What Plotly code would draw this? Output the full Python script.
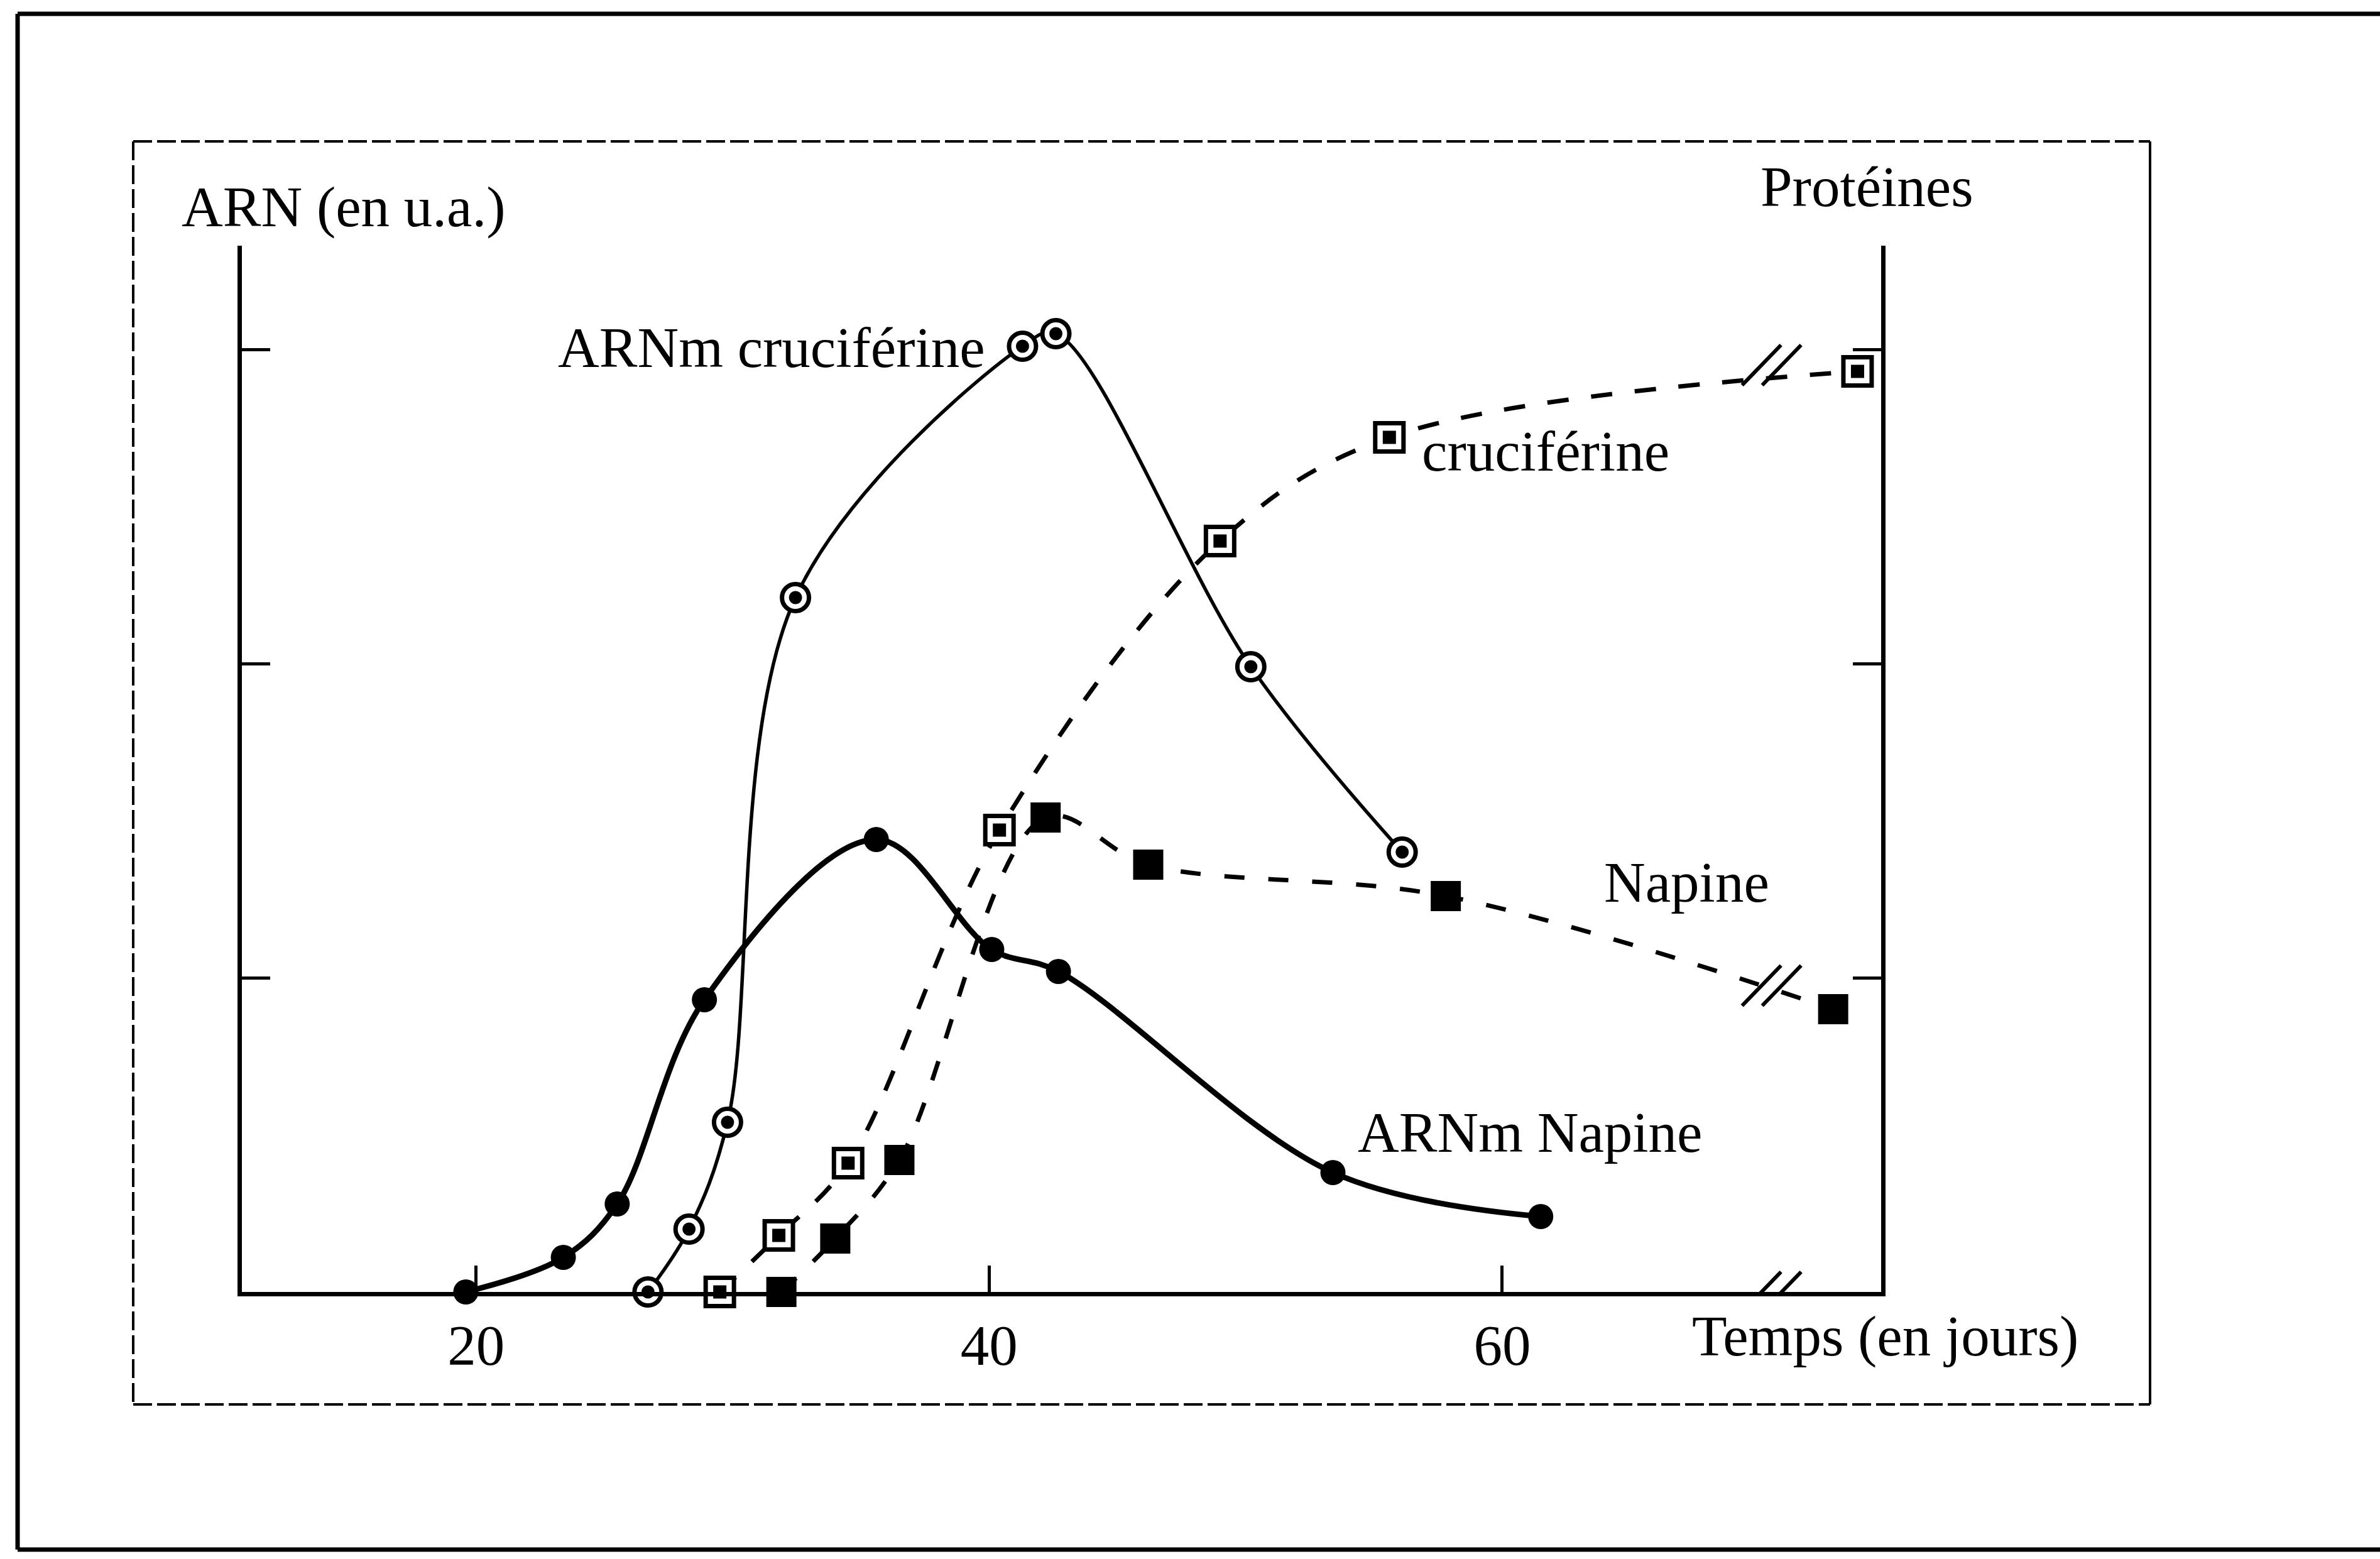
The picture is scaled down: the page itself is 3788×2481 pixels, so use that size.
import plotly.graph_objects as go

# ---------------- data ----------------
# ARNm Napine (filled circles, solid line) - left axis ARN (u.a.)
days_arnm_napine = [19.6, 23.4, 25.5, 28.9, 35.6, 40.1, 42.7, 53.4, 61.5]
arnm_napine      = [0.00, 0.11, 0.28, 0.93, 1.44, 1.09, 1.02, 0.38, 0.24]

# ARNm cruciferine (open circles with dot, thin solid line)
days_arnm_crucif = [26.7, 28.3, 29.8, 32.45, 41.3, 42.6, 50.2, 56.1]
arnm_crucif      = [0.00, 0.20, 0.54, 2.21, 3.01, 3.05, 1.99, 1.40]

# Cruciferine protein (open squares with dot, dashed) - right axis
days_crucif = [29.5, 31.8, 34.5, 40.4, 49.0, 55.6, 73.85]
crucif      = [0.00, 0.18, 0.41, 1.47, 2.39, 2.72, 2.93]

# Napine protein (filled squares, dashed) - right axis
days_napine = [31.9, 34.0, 36.5, 42.2, 46.2, 57.8, 72.9]
napine      = [0.00, 0.17, 0.42, 1.51, 1.36, 1.26, 0.90]

x_tick_vals = [20, 40, 60]
x_tick_text = ["20", "40", "60"]
y_tick_vals = [1, 2, 3]

# axis break (//) position on the time axis and on the two protein curves
break_day = 70.5
break_levels = [0.0, 2.95, 0.975]

# ---------------- geometry / style ----------------
W, H = 3788, 2481
L, R, T, B = 385, 2994, 391, 2056          # plot area in canvas pixels
X_RANGE = [10.87, 74.77]
Y_RANGE = [0, 3.33]
FONT = "Liberation Serif"
FS = 91


def px(X):
    return (X - L) / (R - L)


def py(Y):
    return (B - Y) / (B - T)


fig = go.Figure()

# ---- lines (bottom layer, axis y) ----
fig.add_trace(go.Scatter(x=days_crucif, y=crucif, mode="lines", yaxis="y",
                         line=dict(color="black", width=7, dash="34px,36px",
                                   shape="spline", smoothing=1.0),
                         hoverinfo="skip", showlegend=False))
fig.add_trace(go.Scatter(x=days_napine, y=napine, mode="lines", yaxis="y",
                         line=dict(color="black", width=7, dash="32px,38px",
                                   shape="spline", smoothing=1.0),
                         hoverinfo="skip", showlegend=False))
fig.add_trace(go.Scatter(x=days_arnm_crucif, y=arnm_crucif, mode="lines", yaxis="y",
                         line=dict(color="black", width=5.5, shape="spline", smoothing=1.0),
                         hoverinfo="skip", showlegend=False))
fig.add_trace(go.Scatter(x=days_arnm_napine, y=arnm_napine, mode="lines", yaxis="y",
                         line=dict(color="black", width=9, shape="spline", smoothing=1.0),
                         hoverinfo="skip", showlegend=False))

# ---- markers (top layer, axis y2 = Protéines, same scale) ----
fig.add_trace(go.Scatter(x=days_arnm_napine, y=arnm_napine, mode="markers", yaxis="y2",
                         marker=dict(symbol="circle", size=40, color="black"),
                         cliponaxis=False, showlegend=False))
fig.add_trace(go.Scatter(x=days_arnm_crucif, y=arnm_crucif, mode="markers", yaxis="y2",
                         marker=dict(symbol="circle", size=43, color="white",
                                     line=dict(color="black", width=7)),
                         cliponaxis=False, showlegend=False))
fig.add_trace(go.Scatter(x=days_arnm_crucif, y=arnm_crucif, mode="markers", yaxis="y2",
                         marker=dict(symbol="circle", size=21, color="black"),
                         cliponaxis=False, showlegend=False))
fig.add_trace(go.Scatter(x=days_crucif, y=crucif, mode="markers", yaxis="y2",
                         marker=dict(symbol="square", size=45, color="white",
                                     line=dict(color="black", width=7)),
                         cliponaxis=False, showlegend=False))
fig.add_trace(go.Scatter(x=days_crucif, y=crucif, mode="markers", yaxis="y2",
                         marker=dict(symbol="square", size=21, color="black"),
                         cliponaxis=False, showlegend=False))
fig.add_trace(go.Scatter(x=days_napine, y=napine, mode="markers", yaxis="y2",
                         marker=dict(symbol="square", size=48, color="black"),
                         cliponaxis=False, showlegend=False))

# ---- frames ----
shapes = []
# outer page border (right side is outside the picture)
for (x0, y0, x1, y1) in [(28, 22, 28, 2466), (28, 22, 3800, 22), (28, 2466, 3800, 2466)]:
    shapes.append(dict(type="line", xref="paper", yref="paper",
                       x0=px(x0), y0=py(y0), x1=px(x1), y1=py(y1),
                       line=dict(color="black", width=7), layer="above"))
# inner figure frame
IL, IR, IT, IB = 212, 3422, 225, 2235
for (x0, y0, x1, y1, dsh) in [(IL, IT, IR, IT, "30px,8px"), (IL, IB, IR, IB, "30px,8px"),
                              (IL, IT, IL, IB, "30px,8px"), (IR, IT, IR, IB, "solid")]:
    shapes.append(dict(type="line", xref="paper", yref="paper",
                       x0=px(x0), y0=py(y0), x1=px(x1), y1=py(y1),
                       line=dict(color="black", width=4, dash=dsh), layer="above"))

# axis-break marks "//"
for lvl in break_levels:
    for off in (-16, 16):
        shapes.append(dict(type="line", xref="x", yref="y",
                           xsizemode="pixel", ysizemode="pixel",
                           xanchor=break_day, yanchor=lvl,
                           x0=off - 31, y0=-32, x1=off + 31, y1=32,
                           line=dict(color="black", width=6), layer="above"))

# ---- text labels (left edge x, vertical centre y, canvas px) ----
labels = [
    ("ARN (en u.a.)", 287, 329),
    ("Protéines", 2800, 297),
    ("ARNm cruciférine", 886, 553),
    ("cruciférine", 2261, 718),
    ("Napine", 2551, 1404),
    ("ARNm Napine", 2159, 1802),
    ("Temps (en jours)", 2691, 2126),
]
annotations = [dict(text=t, xref="paper", yref="paper", x=px(X), y=py(Y),
                    xanchor="left", yanchor="middle", showarrow=False,
                    font=dict(family=FONT, size=FS, color="black"))
               for (t, X, Y) in labels]

axis_common = dict(showgrid=False, zeroline=False, showline=True,
                   linecolor="black", linewidth=7, ticks="inside",
                   tickcolor="black", tickwidth=5)

fig.update_layout(
    width=W, height=H, autosize=False,
    margin=dict(l=L, r=W - R, t=T, b=H - B, pad=0),
    paper_bgcolor="white", plot_bgcolor="white",
    showlegend=False,
    xaxis=dict(range=X_RANGE, tickvals=x_tick_vals, ticktext=x_tick_text,
               ticklen=42, ticklabelstandoff=0,
               tickfont=dict(family=FONT, size=FS, color="black"), **axis_common),
    yaxis=dict(range=Y_RANGE, tickvals=y_tick_vals, ticklen=45,
               showticklabels=False, **axis_common),
    yaxis2=dict(range=Y_RANGE, tickvals=y_tick_vals, ticklen=45,
                showticklabels=False, overlaying="y", side="right", **axis_common),
    shapes=shapes,
    annotations=annotations,
    font=dict(family=FONT, size=FS, color="black"),
)

fig.write_html("out.html", config={"displayModeBar": False},
               post_script="document.body.style.margin='0px';")
